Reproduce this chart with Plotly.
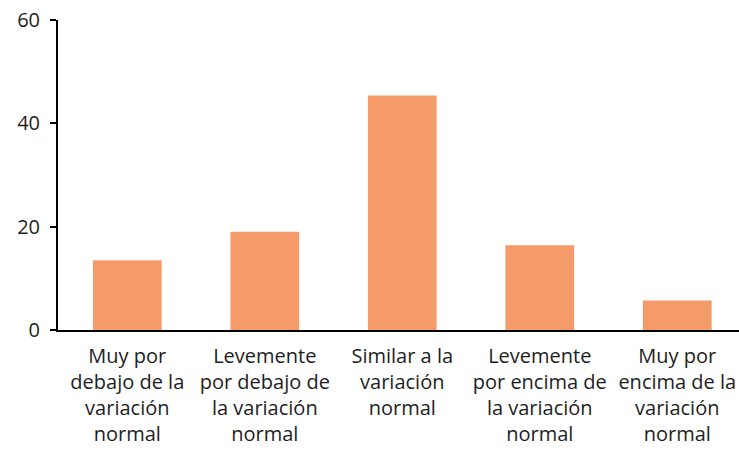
import plotly.graph_objects as go

categories = [
    "Muy por<br>debajo de la<br>variación<br>normal",
    "Levemente<br>por debajo de<br>la variación<br>normal",
    "Similar a la<br>variación<br>normal",
    "Levemente<br>por encima de<br>la variación<br>normal",
    "Muy por<br>encima de la<br>variación<br>normal",
]
values = [13.5, 19.0, 45.4, 16.4, 5.7]
y_ticks = [0, 20, 40, 60]

fig = go.Figure(
    go.Bar(
        x=list(range(len(categories))),
        y=values,
        marker=dict(color="#F49B69", line=dict(width=0)),
    )
)

font = dict(family="Open Sans, Noto Sans, sans-serif", size=20, color="#1e1e1e")

fig.update_layout(
    width=739,
    height=451,
    margin=dict(l=58, r=0, t=20, b=121),
    paper_bgcolor="white",
    plot_bgcolor="white",
    bargap=0.5,
    showlegend=False,
    font=font,
    xaxis=dict(
        tickmode="array",
        tickvals=list(range(len(categories))),
        ticktext=categories,
        range=[-0.504, 4.449],
        showline=True,
        linecolor="black",
        linewidth=2,
        ticks="",
        showgrid=False,
        zeroline=False,
        tickfont=font,
        ticklabelstandoff=7,
    ),
    yaxis=dict(
        range=[0, 60],
        tickmode="array",
        tickvals=y_ticks,
        showline=True,
        linecolor="black",
        linewidth=2,
        ticks="outside",
        ticklen=6,
        tickwidth=1.5,
        tickcolor="black",
        showgrid=False,
        zeroline=False,
        tickfont=font,
        ticklabelstandoff=6,
    ),
)

fig.write_html("out.html")
